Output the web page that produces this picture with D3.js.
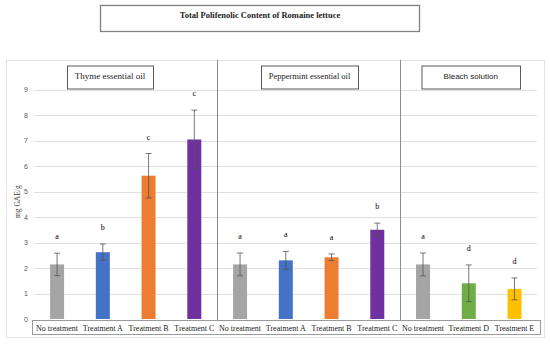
<!DOCTYPE html>
<html>
<head>
<meta charset="utf-8">
<script src="https://cdn.jsdelivr.net/npm/d3@7"></script>
<style>
  body { margin: 0; background: #fff; }
  svg { display: block; }
</style>
</head>
<body>
<div id="chart"></div>
<script>
// chart data
const title = 'Total Polifenolic Content of Romaine lettuce';
const groups = ['Thyme essential oil', 'Peppermint essential oil', 'Bleach solution'];
const categories = ['No treatment', 'Treatment A', 'Treatment B', 'Treatment C',
                    'No treatment', 'Treatment A', 'Treatment B', 'Treatment C',
                    'No treatment', 'Treatment D', 'Treatment E'];
const groupOf = [0, 0, 0, 0, 1, 1, 1, 1, 2, 2, 2];
const values = [2.14, 2.62, 5.62, 7.04, 2.14, 2.30, 2.42, 3.50, 2.14, 1.40, 1.18];
const errors = [0.44, 0.32, 0.87, 1.15, 0.45, 0.35, 0.13, 0.26, 0.45, 0.72, 0.43];
const letters = ['a', 'b', 'c', 'c', 'a', 'a', 'a', 'b', 'a', 'd', 'd'];
const yTicks = [0, 1, 2, 3, 4, 5, 6, 7, 8, 9];
const yLabel = 'mg GAE/g';

const width = 550, height = 344;
const serif = '"Liberation Serif", "DejaVu Serif", serif';

const svg = d3.select('#chart').append('svg')
  .attr('width', width)
  .attr('height', height);

// colour per treatment
const color = d3.scaleOrdinal()
  .domain(['No treatment', 'Treatment A', 'Treatment B', 'Treatment C', 'Treatment D', 'Treatment E'])
  .range(['#a5a5a5', '#4472c4', '#ed7d31', '#7030a0', '#70ad47', '#ffc000']);

const x = d3.scaleBand()
  .domain(d3.range(categories.length))
  .range([34.2, 537.4]);

const y = d3.scaleLinear()
  .domain([0, 9])
  .range([319, 89.5]);

const barW = 14;

// title box
svg.append('rect')
  .attr('x', 100.5).attr('y', 5.5)
  .attr('width', 319).attr('height', 26)
  .attr('fill', '#fff').attr('stroke', '#7f7f7f').attr('stroke-width', 1.3);
svg.append('text')
  .attr('x', 260).attr('y', 18)
  .attr('text-anchor', 'middle')
  .attr('font-family', serif).attr('font-weight', 'bold').attr('font-size', 8.5)
  .attr('fill', '#222')
  .text(title);

// chart area border
svg.append('rect')
  .attr('x', 6.5).attr('y', 60.5)
  .attr('width', 538).attr('height', 277)
  .attr('fill', 'none').attr('stroke', '#e3e3e3');

// gridlines
svg.append('g')
  .selectAll('line')
  .data(yTicks.filter(d => d > 0))
  .enter().append('line')
  .attr('x1', 34).attr('x2', 537)
  .attr('y1', d => Math.round(y(d)) + 0.5)
  .attr('y2', d => Math.round(y(d)) + 0.5)
  .attr('stroke', '#e0e0e0');

// y tick labels
svg.append('g')
  .selectAll('text')
  .data(yTicks)
  .enter().append('text')
  .attr('x', 28)
  .attr('y', d => y(d) + 2.5)
  .attr('text-anchor', 'end')
  .attr('font-family', '"Liberation Sans", sans-serif').attr('font-size', 7)
  .attr('fill', '#595959')
  .text(d => d);

svg.append('text')
  .attr('transform', `translate(20, ${y(4.6)}) rotate(-90)`)
  .attr('text-anchor', 'middle')
  .attr('font-family', serif).attr('font-size', 7.5)
  .attr('fill', '#444')
  .text(yLabel);

// group separators
const seps = [4, 8].map(i => (x(i - 1) + x.bandwidth() + x(i)) / 2);
svg.append('g')
  .selectAll('line')
  .data(seps)
  .enter().append('line')
  .attr('x1', d => Math.round(d) + 0.5).attr('x2', d => Math.round(d) + 0.5)
  .attr('y1', 60).attr('y2', 320)
  .attr('stroke', '#8c8c8c');

// bars
svg.append('g')
  .selectAll('rect')
  .data(values)
  .enter().append('rect')
  .attr('x', (d, i) => x(i) + x.bandwidth() / 2 - barW / 2)
  .attr('y', d => y(d))
  .attr('width', barW)
  .attr('height', d => y(0) - y(d))
  .attr('fill', (d, i) => color(categories[i]));

// error bars
const err = svg.append('g').attr('stroke', '#555').attr('stroke-width', 0.8);
values.forEach((v, i) => {
  const cx = x(i) + x.bandwidth() / 2;
  const top = y(v + errors[i]), bot = y(v - errors[i]);
  err.append('line').attr('x1', cx).attr('x2', cx).attr('y1', top).attr('y2', bot);
  err.append('line').attr('x1', cx - 3).attr('x2', cx + 3).attr('y1', top).attr('y2', top);
  err.append('line').attr('x1', cx - 3).attr('x2', cx + 3).attr('y1', bot).attr('y2', bot);
});

// significance letters
svg.append('g')
  .selectAll('text')
  .data(letters)
  .enter().append('text')
  .attr('x', (d, i) => x(i) + x.bandwidth() / 2)
  .attr('y', (d, i) => y(values[i] + errors[i]) - 14)
  .attr('text-anchor', 'middle')
  .attr('font-family', serif).attr('font-size', 8)
  .attr('fill', '#000')
  .text(d => d);

// category label box
svg.append('rect')
  .attr('x', 32.5).attr('y', 320.5)
  .attr('width', 508).attr('height', 14)
  .attr('fill', '#fff').attr('stroke', '#9a9a9a');
svg.append('g')
  .selectAll('text')
  .data(categories)
  .enter().append('text')
  .attr('x', (d, i) => x(i) + x.bandwidth() / 2)
  .attr('y', 330.5)
  .attr('text-anchor', 'middle')
  .attr('font-family', serif).attr('font-size', 8)
  .attr('fill', '#222')
  .text(d => d);

// group label boxes
const groupBoxes = [
  {x: 67, w: 86, font: serif, size: 9},
  {x: 261, w: 97, font: serif, size: 8.5},
  {x: 421.5, w: 98.5, font: '"Liberation Sans", sans-serif', size: 8}
];
groupBoxes.forEach((b, i) => {
  svg.append('rect')
    .attr('x', b.x + 0.5).attr('y', 66)
    .attr('width', b.w).attr('height', 23)
    .attr('fill', '#fff').attr('stroke', '#595959').attr('stroke-width', 1);
  svg.append('text')
    .attr('x', b.x + b.w / 2).attr('y', 79)
    .attr('text-anchor', 'middle')
    .attr('font-family', b.font).attr('font-size', b.size)
    .attr('fill', '#222')
    .text(groups[i]);
});
</script>
</body>
</html>
